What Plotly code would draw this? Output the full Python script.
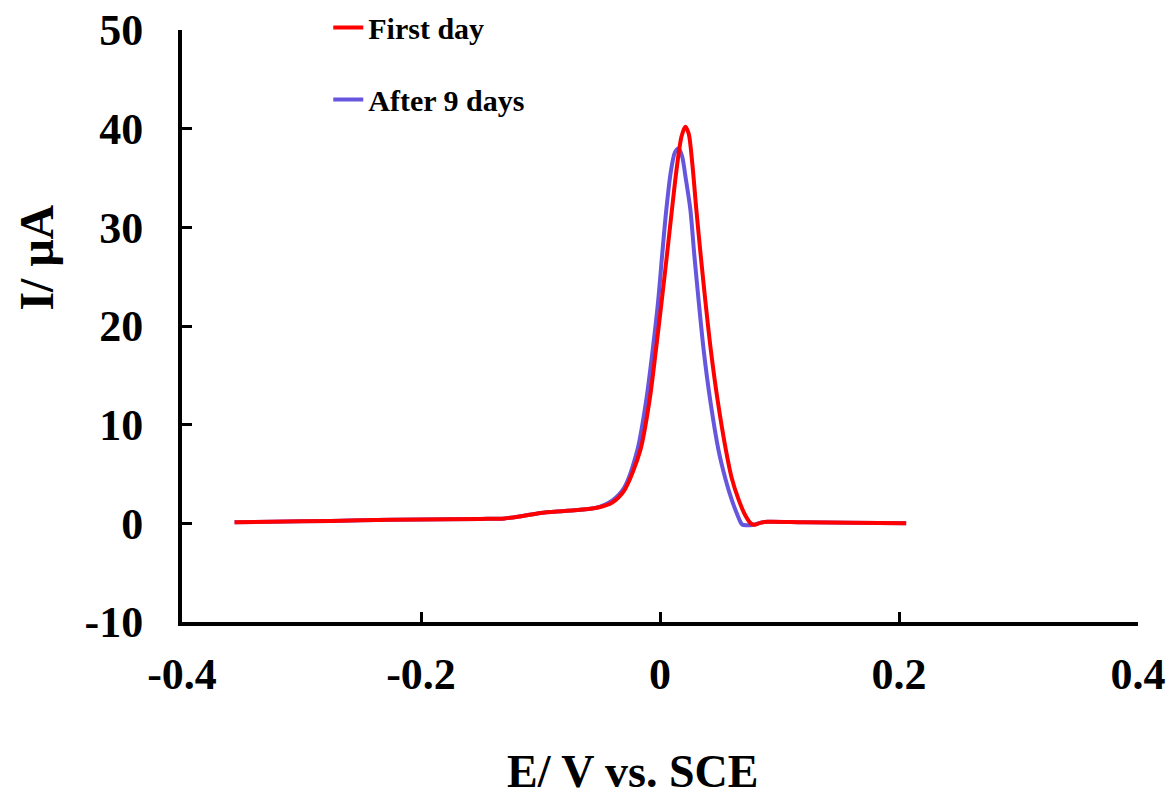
import plotly.graph_objects as go

# First day (red)
first_x = [-0.356, -0.30, -0.25, -0.20, -0.15, -0.13, -0.115, -0.10, -0.08, -0.06, -0.05, -0.04,
           -0.03, -0.0165, -0.0087, -0.0034, 0.0015, 0.006, 0.010, 0.014, 0.018, 0.0212, 0.024,
           0.027, 0.0304, 0.0342, 0.0379, 0.0425, 0.0482, 0.0552, 0.060, 0.0658, 0.071, 0.076,
           0.079, 0.084, 0.09, 0.12, 0.16, 0.206]
first_y = [0.1, 0.2, 0.3, 0.4, 0.45, 0.5, 0.75, 1.05, 1.25, 1.45, 1.65, 2.1,
           3.3, 7.4, 12.5, 17.6, 22.6, 27.4, 31.8, 36.0, 39.2, 40.2, 39.5,
           36.5, 31.8, 27.0, 22.6, 17.6, 12.5, 7.4, 4.6, 2.4, 0.9, 0.0,
           -0.15, 0.05, 0.15, 0.1, 0.05, 0.0]

# After 9 days (blue)
after_x = [-0.356, -0.30, -0.25, -0.20, -0.15, -0.13, -0.115, -0.10, -0.08, -0.06, -0.05, -0.04,
           -0.03, -0.019, -0.0115, -0.0061, -0.0015, 0.0018, 0.0053, 0.009, 0.0125, 0.0156, 0.0185,
           0.0215, 0.0254, 0.0287, 0.0323, 0.0365, 0.042, 0.049, 0.055, 0.060, 0.065, 0.0686,
           0.072, 0.078, 0.085, 0.09, 0.12, 0.16, 0.206]
after_y = [0.1, 0.2, 0.3, 0.4, 0.45, 0.5, 0.75, 1.05, 1.25, 1.45, 1.7, 2.3,
           3.6, 7.4, 12.5, 17.6, 22.6, 27.2, 31.8, 35.6, 37.6, 38.0, 37.2,
           35.0, 31.8, 27.2, 22.6, 17.6, 12.5, 7.4, 4.4, 2.4, 0.8, -0.1,
           -0.2, -0.15, 0.1, 0.15, 0.1, 0.05, 0.0]

x_ticks = [-0.4, -0.2, 0, 0.2, 0.4]
x_ticktext = ["-0.4", "-0.2", "0", "0.2", "0.4"]
y_ticks = [-10, 0, 10, 20, 30, 40, 50]
y_ticktext = ["-10", "0", "10", "20", "30", "40", "50"]

FONT = "Liberation Serif"

fig = go.Figure()
fig.add_trace(go.Scatter(x=after_x, y=after_y, mode="lines", name="After 9 days",
                         line=dict(color="#6655dd", width=4, shape="spline", smoothing=0.8),
                         legendgroup="b", legendrank=2))
fig.add_trace(go.Scatter(x=first_x, y=first_y, mode="lines", name="First day",
                         line=dict(color="#ff0000", width=4, shape="spline", smoothing=0.8),
                         legendgroup="a", legendrank=1))

fig.update_layout(
    width=1169, height=798, autosize=False,
    margin=dict(l=182, r=31, t=30, b=176, autoexpand=False),
    paper_bgcolor="white", plot_bgcolor="white",
    font=dict(family=FONT, color="black"),
    showlegend=True,
    legend=dict(x=0.153, y=0.998, xref="paper", yref="container", xanchor="left", yanchor="top",
                font=dict(family=FONT, size=30, color="black", weight="bold"),
                bgcolor="rgba(0,0,0,0)", tracegroupgap=30, traceorder="grouped"),
    xaxis=dict(range=[-0.4, 0.4], tickvals=x_ticks, ticktext=x_ticktext, automargin=False,
               showgrid=False, zeroline=False, showline=True, linecolor="black", linewidth=4,
               ticks="inside", ticklen=10, tickwidth=3, tickcolor="black",
               tickfont=dict(family=FONT, size=44, color="black", weight="bold"),
               ticklabelstandoff=10),
    yaxis=dict(range=[-10, 50], tickvals=y_ticks, ticktext=y_ticktext, automargin=False,
               showgrid=False, zeroline=False, showline=True, linecolor="black", linewidth=4,
               ticks="inside", ticklen=10, tickwidth=3, tickcolor="black",
               tickfont=dict(family=FONT, size=44, color="black", weight="bold"),
               ticklabelstandoff=26),
    annotations=[
        dict(text="E/ V vs. SCE", xref="paper", yref="paper", x=0.471, y=-0.253,
             xanchor="center", yanchor="middle", showarrow=False,
             font=dict(family=FONT, size=46, color="black", weight="bold")),
        dict(text="I/ μA", xref="paper", yref="paper", x=-0.152, y=0.615,
             xanchor="center", yanchor="middle", showarrow=False, textangle=-90,
             font=dict(family=FONT, size=48, color="black", weight="bold")),
    ],
)

fig.write_html("out.html")
